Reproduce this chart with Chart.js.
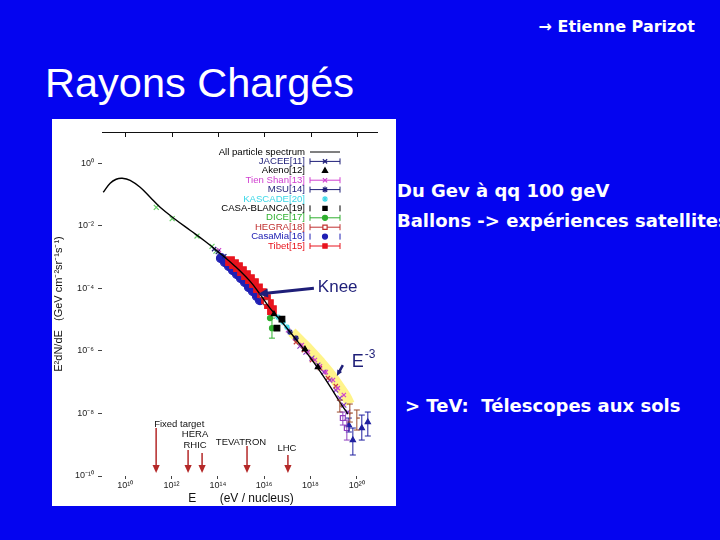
<!DOCTYPE html>
<html lang="fr">
<head>
<meta charset="utf-8">
<title>Rayons Chargés</title>
<script src="https://cdn.jsdelivr.net/npm/chart.js@4.4.1/dist/chart.umd.min.js"></script>
<style>
  html, body { margin: 0; padding: 0; }
  body { width: 720px; height: 540px; background: #0404f0; position: relative; overflow: hidden; color: #fff; font-family: "DejaVu Sans", Verdana, sans-serif; }
  .txt { position: absolute; white-space: nowrap; line-height: 1; }
  #author { top: 19px; right: 25px; font-size: 16px; font-weight: bold; }
  #title { left: 45px; top: 62px; font-family: "Liberation Sans", Arial, sans-serif; font-size: 41.5px; }
  .bullet { font-size: 18px; font-weight: bold; }
  #panel { position: absolute; left: 52px; top: 119px; width: 344px; height: 387px; background: #fff; }
</style>
</head>
<body>
<div id="author" class="txt">→ Etienne Parizot</div>
<div id="title" class="txt">Rayons Chargés</div>
<div class="txt bullet" style="left:397px; top:182px;">Du Gev à qq 100 geV</div>
<div class="txt bullet" style="left:397px; top:212px;">Ballons -&gt; expériences satellites</div>
<div class="txt bullet" style="left:405px; top:397px;">&gt; TeV:&nbsp; Télescopes aux sols</div>
<div id="panel"><canvas id="spectrum" width="344" height="387"></canvas></div>
<script>
// axis ticks
const xTicks = [1e10, 1e12, 1e14, 1e16, 1e18, 1e20];
const yTicks = [1, 1e-2, 1e-4, 1e-6, 1e-8, 1e-10];

// [energy eV, E^2 dN/dE]
const allParticle = [[1.13e9, 0.118], [2.25e9, 0.23], [4.09e9, 0.308], [7.43e9, 0.332], [1.64e10, 0.286],
  [4.43e10, 0.171], [1.2e11, 0.082], [3.23e11, 0.0393], [1.43e12, 0.0163], [6.34e12, 7.23e-3],
  [2.81e13, 3.22e-3], [1.24e14, 1.33e-3], [5.51e14, 5.12e-4], [2.44e15, 1.70e-4], [6.59e15, 6.53e-5],
  [1.78e16, 2.33e-5], [5.85e16, 8.32e-6], [2.13e17, 2.56e-6], [7.0e17, 8.51e-7], [2.08e18, 2.82e-7],
  [6.86e18, 7.5e-8], [1.85e19, 2.31e-8], [4.09e19, 9.57e-9]];
const direct = [[2.2e11, 0.039], [1.07e12, 0.017], [1.26e13, 4.7e-3], [5.6e13, 2.2e-3], [8.3e13, 1.55e-3]];
const jacee = [[6.9e13, 1.8e-3], [1.0e14, 1.45e-3], [1.9e14, 1.07e-3]];
const akeno = [[2.64e16, 1.5e-5], [5.74e17, 1.14e-6], [2.08e18, 3.03e-7]];
const tienShan = [[1.12e14, 1.66e-3], [1.07e17, 4.57e-6], [2.14e17, 2.57e-6], [4.27e17, 1.55e-6], [7.76e17, 9.12e-7],
  [1.55e18, 5.13e-7], [2.57e18, 3.24e-7], [4.57e18, 2.09e-7], [9.33e18, 1.17e-7], [1.51e19, 6.46e-8], [2.75e19, 3.89e-8]];
const msu = [[1.29e17, 3.99e-6], [2.35e17, 2.56e-6]];
const kascade = [[3.94e16, 1.2e-5], [6.46e16, 8.32e-6], [9.62e16, 5.76e-6]];
const casaBlanca = [[3.56e16, 5.35e-6], [5.85e16, 1.04e-5]];
const dice = [[1.78e16, 1.12e-5], [2.17e16, 5.35e-6]];
const diceErr = [null, [2.56e-6, 1.12e-5]];
const hegra = [[8.04e15, 6.07e-5], [1.2e16, 3.62e-5]];
const casaMia = [[1.37e14, 9.23e-4], [2.04e14, 6.87e-4], [3.04e14, 5.12e-4], [4.52e14, 3.81e-4], [6.73e14, 2.84e-4],
  [1.0e15, 2.12e-4], [1.49e15, 1.58e-4], [2.21e15, 1.09e-4], [3.29e15, 8.15e-5], [4.90e15, 5.64e-5], [6.59e15, 4.20e-5]];
const tibet = [[3.36e14, 7.40e-4], [4.99e14, 5.93e-4], [7.43e14, 4.75e-4], [1.10e15, 3.55e-4], [1.64e15, 2.64e-4],
  [2.44e15, 1.97e-4], [3.63e15, 1.47e-4], [5.41e15, 1.01e-4], [8.04e15, 7.03e-5], [1.20e16, 4.52e-5],
  [1.61e16, 3.13e-5], [2.17e16, 2.01e-5]];
const flysEye = [[3.49e17, 1.42e-6], [6.34e17, 9.16e-7], [1.15e18, 5.89e-7], [2.08e18, 3.52e-7], [3.78e18, 2.10e-7],
  [6.86e18, 1.17e-7], [1.24e19, 5.60e-8], [1.85e19, 3.10e-8], [2.75e19, 1.85e-8], [4.09e19, 1.11e-8]];
const flysHigh = [[2.49e19, 7.13e-9], [3.71e19, 3.42e-9]];
const flysHighErr = [[4.26e-9, 1.11e-8], [1.41e-9, 6.15e-9]];
const yakutsk = [[2.35e17, 1.91e-6], [5.2e17, 1.06e-6], [1.15e18, 5.08e-7], [2.54e18, 2.82e-7], [5.62e18, 1.35e-7], [1.24e19, 7.5e-8]];
const agasa = [[4.52e19, 4.26e-9], [6.73e19, 1.41e-9], [1.64e20, 3.42e-9], [2.98e20, 5.31e-9]];
const agasaErr = [[2.55e-9, 7.13e-9], [4.69e-10, 3.42e-9], [1.41e-9, 8.89e-9], [1.90e-9, 1.11e-8]];
const haverah = [[1.85e19, 1.72e-8], [4.99e19, 1.03e-8], [1.0e20, 7.13e-9]];
const haverahErr = [[1.11e-8, 2.68e-8], [5.31e-9, 2.0e-8], [2.95e-9, 1.29e-8]];
const yellowBand = [[1.58e17, 3.99e-6], [3.49e17, 2.21e-6], [9.42e17, 1.06e-6], [2.54e18, 4.72e-7],
  [6.86e18, 1.95e-7], [1.85e19, 6.97e-8], [3.36e19, 3.60e-8], [4.99e19, 2.0e-8]];

// accelerator equivalent energies
const accelE = [2.17e11, 5.2e12, 2.09e13, 1.82e15, 1.06e17];
const accelTop = [3.42e-9, 6.78e-10, 5.43e-10, 9.08e-10, 4.69e-10];
const accelBottom = 1.25e-10;
const accelLabels = [
  ['Fixed target', 1.78e11, 3.67e-9, 'left'],
  ['HERA', 1.04e13, 1.76e-9, 'center'],
  ['RHIC', 1.04e13, 7.85e-10, 'center'],
  ['TEVATRON', 1.0e15, 9.77e-10, 'center'],
  ['LHC', 9.62e16, 6.29e-10, 'center']
];

const legendOrder = ['All particle spectrum', 'JACEE[11]', 'Akeno[12]', 'Tien Shan[13]', 'MSU[14]', 'KASCADE[20]',
  'CASA-BLANCA[19]', 'DICE[17]', 'HEGRA[18]', 'CasaMia[16]', 'Tibet[15]'];

const NAVY = '#1e1e78';
const sup = { '0': '⁰', '1': '¹', '2': '²', '3': '³', '4': '⁴', '5': '⁵', '6': '⁶', '7': '⁷', '8': '⁸', '9': '⁹', '-': '⁻' };
const pow10 = v => '10' + String(Math.round(Math.log10(v))).split('').map(c => sup[c]).join('');
const pts = arr => arr.map(p => ({ x: p[0], y: p[1] }));

const scatterSet = (label, data, color, style, radius, extra) => Object.assign({
  label: label,
  data: pts(data),
  showLine: false,
  borderColor: color,
  backgroundColor: color,
  pointStyle: style,
  pointRadius: radius,
  pointBorderWidth: 1.2
}, extra || {});

const datasets = [
  {
    label: 'All particle spectrum', data: pts(allParticle), showLine: true, borderColor: '#000',
    borderWidth: 1.4, pointRadius: 0, tension: 0.4, legendKind: 'line'
  },
  scatterSet('AGASA', agasa, '#2020a0', 'triangle', 3, { errors: agasaErr }),
  scatterSet('HaverahPark', haverah, '#9a4a2a', 'dash', 3, { errors: haverahErr }),
  scatterSet('FlysEyeHigh', flysHigh, '#9040c0', 'rect', 3.5, { backgroundColor: 'rgba(0,0,0,0)', errors: flysHighErr }),
  scatterSet('Akeno[12]', akeno, '#000', 'triangle', 3, { legendKind: 'point' }),
  scatterSet('CASA-BLANCA[19]', casaBlanca, '#000', 'rect', 4, { legendKind: 'caps' }),
  scatterSet('KASCADE[20]', kascade, '#3cd8e8', 'star', 3, { legendKind: 'point' }),
  scatterSet('DICE[17]', dice, '#30b030', 'circle', 2.5, { errors: diceErr, legendKind: 'bar' }),
  scatterSet('HEGRA[18]', hegra, '#c03030', 'rect', 3.5, { backgroundColor: '#fff', legendKind: 'bar' }),
  scatterSet('MSU[14]', msu, NAVY, 'star', 3, { legendKind: 'bar' }),
  scatterSet('JACEE[11]', jacee, NAVY, 'crossRot', 3, { legendKind: 'bar' }),
  scatterSet('Tien Shan[13]', tienShan, '#d040d0', 'crossRot', 3, { legendKind: 'bar' }),
  scatterSet('Yakutsk', yakutsk, '#c83c3c', 'crossRot', 3),
  scatterSet('FlysEye', flysEye, '#8a3cc8', 'crossRot', 3.5),
  scatterSet('Tibet[15]', tibet, '#e8141e', 'rect', 6, { legendKind: 'bar', legendRadius: 3 }),
  scatterSet('CasaMia[16]', casaMia, '#2020b4', 'circle', 4.5, { legendKind: 'caps', legendRadius: 2.5 }),
  scatterSet('direct', direct, '#66d066', 'crossRot', 3.5),
  {
    label: 'band', data: pts(yellowBand), showLine: true, borderColor: 'rgba(255,236,60,0.6)',
    borderWidth: 10, pointRadius: 0, tension: 0.4
  }
];

function drawMarker(ctx, ds, x, y, r) {
  ctx.fillStyle = ds.backgroundColor;
  ctx.strokeStyle = ds.borderColor;
  ctx.lineWidth = 1.2;
  Chart.helpers.drawPoint(ctx, { pointStyle: ds.pointStyle, radius: r, rotation: 0, borderWidth: 1.2 }, x, y);
}

function arrow(ctx, x1, y1, x2, y2, head, width, color) {
  const a = Math.atan2(y2 - y1, x2 - x1);
  const c = Math.cos(a), s = Math.sin(a);
  ctx.strokeStyle = color;
  ctx.fillStyle = color;
  ctx.lineWidth = width;
  ctx.beginPath();
  ctx.moveTo(x1, y1);
  ctx.lineTo(x2 - c * head * 0.8, y2 - s * head * 0.8);
  ctx.stroke();
  ctx.beginPath();
  ctx.moveTo(x2, y2);
  ctx.lineTo(x2 - head * c + head * 0.45 * s, y2 - head * s - head * 0.45 * c);
  ctx.lineTo(x2 - head * c - head * 0.45 * s, y2 - head * s + head * 0.45 * c);
  ctx.closePath();
  ctx.fill();
}

// vertical error bars
const errorBars = {
  id: 'errorBars',
  afterDatasetsDraw(chart) {
    const ctx = chart.ctx, xs = chart.scales.x, ys = chart.scales.y;
    chart.data.datasets.forEach(ds => {
      if (!ds.errors) return;
      ctx.save();
      ctx.strokeStyle = ds.borderColor;
      ctx.lineWidth = 1;
      ds.data.forEach((p, i) => {
        const e = ds.errors[i];
        if (!e) return;
        const x = xs.getPixelForValue(p.x);
        const y1 = ys.getPixelForValue(e[0]), y2 = ys.getPixelForValue(e[1]);
        ctx.beginPath();
        ctx.moveTo(x, y1); ctx.lineTo(x, y2);
        ctx.moveTo(x - 3, y1); ctx.lineTo(x + 3, y1);
        ctx.moveTo(x - 3, y2); ctx.lineTo(x + 3, y2);
        ctx.stroke();
      });
      ctx.restore();
    });
  }
};

// frame, legend, annotations
const decorations = {
  id: 'decorations',
  afterDraw(chart) {
    const ctx = chart.ctx, xs = chart.scales.x, ys = chart.scales.y, area = chart.chartArea;
    const px = v => xs.getPixelForValue(v), py = v => ys.getPixelForValue(v);
    ctx.save();

    // top frame line with inward ticks
    ctx.strokeStyle = '#111';
    ctx.lineWidth = 1;
    ctx.beginPath();
    ctx.moveTo(area.left, area.top + 0.5);
    ctx.lineTo(area.right - 2, area.top + 0.5);
    xTicks.forEach(v => {
      const x = Math.round(px(v)) + 0.5;
      ctx.moveTo(x, area.top);
      ctx.lineTo(x, area.top + 5);
    });
    ctx.stroke();

    // legend
    const textRight = area.left + 203;
    const x1 = textRight + 5, x2 = textRight + 35, xm = textRight + 20;
    ctx.font = '9.6px "Liberation Sans", Arial, sans-serif';
    ctx.textAlign = 'right';
    ctx.textBaseline = 'middle';
    legendOrder.forEach((name, i) => {
      const ds = chart.data.datasets.find(d => d.label === name);
      const y = area.top + 20 + i * 9.4;
      ctx.fillStyle = ds.borderColor;
      ctx.fillText(name, textRight, y);
      ctx.strokeStyle = ds.borderColor;
      ctx.lineWidth = 1;
      ctx.beginPath();
      if (ds.legendKind === 'line' || ds.legendKind === 'bar') {
        ctx.moveTo(x1, y); ctx.lineTo(x2, y);
      }
      if (ds.legendKind === 'bar' || ds.legendKind === 'caps') {
        ctx.moveTo(x1, y - 3); ctx.lineTo(x1, y + 3);
        ctx.moveTo(x2, y - 3); ctx.lineTo(x2, y + 3);
      }
      ctx.stroke();
      if (ds.legendKind !== 'line') drawMarker(ctx, ds, xm, y, Math.min(ds.legendRadius || ds.pointRadius, 3));
    });

    // knee
    arrow(ctx, px(1.40e18), py(1.01e-4), px(5.41e15), py(6.53e-5), 10, 3, NAVY);
    ctx.fillStyle = NAVY;
    ctx.textAlign = 'left';
    ctx.textBaseline = 'alphabetic';
    ctx.font = '17px "Liberation Sans", Arial, sans-serif';
    ctx.fillText('Knee', px(2.08e18), py(7.57e-5));

    // E^-3
    arrow(ctx, px(2.49e19), py(3.52e-7), px(1.37e19), py(1.57e-7), 6, 2.5, NAVY);
    const ex = px(6.08e19), ey = py(3.03e-7);
    ctx.fillStyle = NAVY;
    ctx.font = '18px "Liberation Sans", Arial, sans-serif';
    ctx.fillText('E', ex, ey);
    const ew = ctx.measureText('E').width;
    ctx.font = '12px "Liberation Sans", Arial, sans-serif';
    ctx.fillText('-3', ex + ew + 1, ey - 9);

    // accelerators
    accelE.forEach((e, i) => {
      arrow(ctx, px(e), py(accelTop[i]), px(e), py(accelBottom), 8, 1.5, '#b42828');
    });
    ctx.fillStyle = '#111';
    ctx.font = '9.5px "Liberation Sans", Arial, sans-serif';
    accelLabels.forEach(l => {
      ctx.textAlign = l[3];
      ctx.fillText(l[0], px(l[1]), py(l[2]));
    });
    ctx.restore();
  }
};

const axisFont = { family: '"Liberation Sans", Arial, sans-serif', size: 9 };

new Chart(document.getElementById('spectrum'), {
  type: 'scatter',
  data: { datasets: datasets },
  options: {
    responsive: false,
    animation: false,
    layout: { padding: { top: 13, right: 16, left: 0, bottom: 0 } },
    plugins: { legend: { display: false }, tooltip: { enabled: false } },
    scales: {
      x: {
        type: 'logarithmic',
        min: 1e9,
        max: 1e21,
        afterBuildTicks: s => { s.ticks = xTicks.map(v => ({ value: v })); },
        afterFit: s => { s.height = 30; },
        ticks: { callback: v => pow10(v), font: axisFont, color: '#222', padding: 1, maxRotation: 0, autoSkip: false },
        grid: { drawOnChartArea: false, tickLength: 3, color: '#444' },
        border: { display: false },
        title: {
          display: true,
          text: 'E       (eV / nucleus)',
          color: '#111',
          font: { family: '"Liberation Sans", Arial, sans-serif', size: 12 },
          padding: 0
        }
      },
      y: {
        type: 'logarithmic',
        min: 1e-10,
        max: 10,
        afterBuildTicks: s => { s.ticks = yTicks.map(v => ({ value: v })); },
        afterFit: s => { s.width = 50; },
        ticks: { callback: v => pow10(v), font: axisFont, color: '#222', padding: 4, autoSkip: false },
        grid: { drawOnChartArea: false, tickLength: 4, color: '#444' },
        border: { display: false },
        title: {
          display: true,
          text: 'E²dN/dE   (GeV cm⁻²sr⁻¹s⁻¹)',
          color: '#111',
          font: { family: '"Liberation Sans", Arial, sans-serif', size: 11 },
          padding: 0
        }
      }
    }
  },
  plugins: [errorBars, decorations]
});
</script>
</body>
</html>
